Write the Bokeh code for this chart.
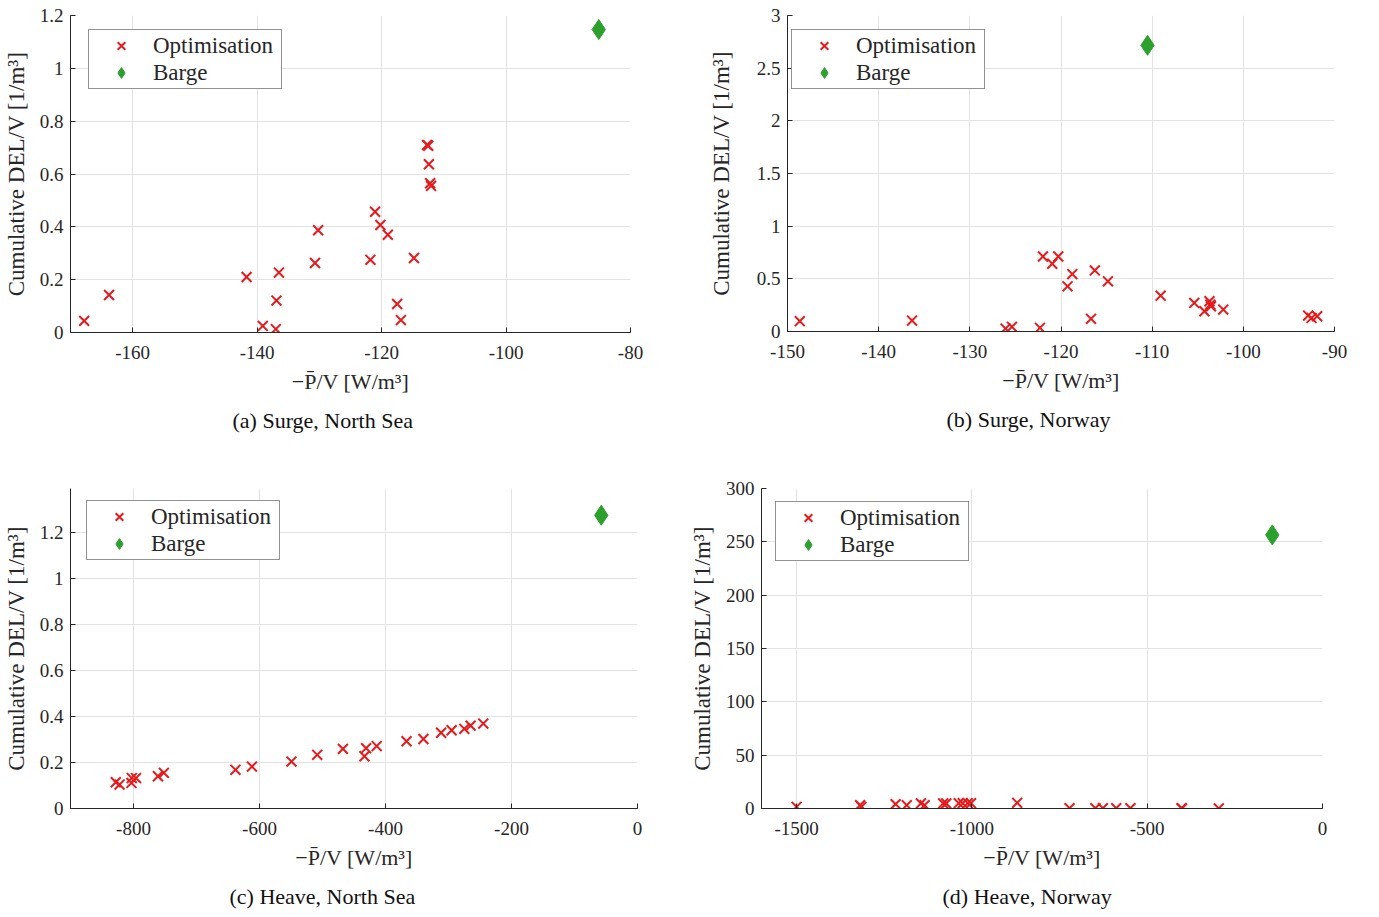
from bokeh.plotting import figure
from bokeh.models import Range1d, FixedTicker, CustomJSTickFormatter
from bokeh.layouts import column, row
from bokeh.embed import file_html
from bokeh.resources import INLINE

# ---------------- data ----------------
# (a) Surge, North Sea
a_opt_x = [-167.8, -163.8, -141.7, -139.1, -137.0, -136.9, -136.5, -130.7, -130.2, -121.8,
           -121.05, -120.2, -119.0, -117.5, -116.9, -114.8, -112.7, -112.5, -112.4, -112.2, -112.05]
a_opt_y = [0.044, 0.142, 0.210, 0.025, 0.013, 0.121, 0.227, 0.263, 0.387, 0.275,
           0.457, 0.407, 0.370, 0.108, 0.047, 0.282, 0.710, 0.707, 0.637, 0.565, 0.555]
a_barge_x = [-85.1]
a_barge_y = [1.147]
a_xticks = [-160, -140, -120, -100, -80]
a_yticks = [0, 0.2, 0.4, 0.6, 0.8, 1, 1.2]

# (b) Surge, Norway
b_opt_x = [-148.65, -136.34, -126.08, -125.38, -122.31, -121.98, -120.96, -120.30, -119.28, -118.76,
           -116.71, -116.29, -114.85, -109.07, -105.38, -104.27, -103.71, -103.62, -103.55, -102.2,
           -92.89, -92.52, -91.9]
b_opt_y = [0.098, 0.104, 0.028, 0.044, 0.035, 0.712, 0.643, 0.712, 0.429, 0.545,
           0.120, 0.580, 0.476, 0.340, 0.271, 0.192, 0.287, 0.256, 0.240, 0.208,
           0.151, 0.129, 0.145]
b_barge_x = [-110.51]
b_barge_y = [2.717]
b_xticks = [-150, -140, -130, -120, -110, -100, -90]
b_yticks = [0, 0.5, 1, 1.5, 2, 2.5, 3]

# (c) Heave, North Sea
c_opt_x = [-828.1, -822.1, -803.3, -802.7, -796.0, -761.2, -751.8, -638.1, -612.0, -549.2,
           -508.4, -467.6, -433.4, -430.8, -414.0, -366.6, -339.8, -311.7, -295.0, -274.9,
           -264.9, -244.8]
c_opt_y = [0.114, 0.104, 0.111, 0.132, 0.132, 0.140, 0.155, 0.168, 0.182, 0.204,
           0.233, 0.259, 0.227, 0.262, 0.271, 0.292, 0.302, 0.329, 0.340, 0.346,
           0.360, 0.369]
c_barge_x = [-57.5]
c_barge_y = [1.274]
c_xticks = [-800, -600, -400, -200, 0]
c_yticks = [0, 0.2, 0.4, 0.6, 0.8, 1, 1.2]

# (d) Heave, Norway
d_opt_x = [-1500, -1318.8, -1315, -1217.5, -1185.8, -1145.3, -1135, -1081.8, -1073, -1037.5,
           -1026, -1012, -1002.5, -870.8, -721.3, -647.8, -626.3, -588.3, -547.8, -402,
           -400.8, -295.7]
d_opt_y = [1.6, 3.1, 1.6, 4.1, 3.1, 4.7, 3.1, 4.7, 4.7, 5.0,
           5.0, 5.0, 5.0, 5.3, 0.3, 0.3, 0.3, 0.3, 0.3, 0.3,
           0.0, 0.1]
d_barge_x = [-143.2]
d_barge_y = [256.5]
d_xticks = [-1500, -1000, -500, 0]
d_yticks = [0, 50, 100, 150, 200, 250, 300]

captions = ["(a) Surge, North Sea", "(b) Surge, Norway", "(c) Heave, North Sea", "(d) Heave, Norway"]
x_label = "\u2212P\u0304/V [W/m\u00b3]"
y_label = "Cumulative DEL/V [1/m\u00b3]"
series_names = ["Optimisation", "Barge"]

RED = "#e41a1c"
GREEN = "#2ca02c"
AX = "#262626"
FONT = "Liberation Serif"
LEG_H = 58


def make(opt_x, opt_y, bx, by, xr, yr, xt, yt, caption, fw, fh,
         bl, br, bt, bb, cap_off, leg_x, leg_y, ylab_standoff):
    p = figure(frame_width=fw, frame_height=fh, output_backend="svg", toolbar_location=None,
               x_range=Range1d(*xr), y_range=Range1d(*yr), title=caption,
               title_location="below", min_border_left=bl, min_border_right=br,
               min_border_top=bt, min_border_bottom=bb)
    p.outline_line_color = None
    p.background_fill_color = "white"
    p.border_fill_color = "white"

    p.scatter(opt_x, opt_y, marker="x", size=14, line_width=2, color=RED,
              legend_label=series_names[0])
    p.scatter(bx, by, marker="diamond", size=20, color=GREEN, line_color=GREEN,
              legend_label=series_names[1])

    fmt = CustomJSTickFormatter(code="return tick.toString();")
    for ax, ticks in ((p.xaxis[0], xt), (p.yaxis[0], yt)):
        ax.ticker = FixedTicker(ticks=ticks)
        ax.formatter = fmt
        ax.axis_line_color = AX
        ax.major_tick_line_color = AX
        ax.major_tick_in = 5
        ax.major_tick_out = 0
        ax.minor_tick_line_color = None
        ax.major_label_text_font = FONT
        ax.major_label_text_font_size = "19px"
        ax.major_label_text_color = AX
        ax.axis_label_text_font = FONT
        ax.axis_label_text_font_style = "normal"
        ax.axis_label_text_color = AX
    p.xaxis.axis_label = x_label
    p.yaxis.axis_label = y_label
    p.xaxis.axis_label_text_font_size = "22px"
    p.yaxis.axis_label_text_font_size = "23px"
    p.xaxis.major_label_standoff = 13
    p.yaxis.major_label_standoff = 7
    p.xaxis.axis_label_standoff = 7
    p.yaxis.axis_label_standoff = ylab_standoff

    p.grid.grid_line_color = "#e3e3e3"
    p.grid.grid_line_width = 1
    p.xgrid.ticker = FixedTicker(ticks=xt)
    p.ygrid.ticker = FixedTicker(ticks=yt)

    p.title.align = "left"
    p.title.offset = cap_off
    p.title.text_font = FONT
    p.title.text_font_size = "22px"
    p.title.text_font_style = "normal"
    p.title.text_color = "#111111"
    p.title.standoff = 18

    lg = p.legend[0]
    lg.location = (leg_x, fh - leg_y - LEG_H)
    lg.border_line_color = AX
    lg.border_line_width = 1
    lg.background_fill_color = "white"
    lg.background_fill_alpha = 1
    lg.label_text_font = FONT
    lg.label_text_font_size = "23px"
    lg.label_text_color = AX
    lg.padding = 2
    lg.spacing = 0
    lg.glyph_width = 60
    lg.glyph_height = 27
    lg.label_height = 27
    lg.label_width = 126
    lg.label_standoff = 2
    lg.margin = 0
    return p


pa = make(a_opt_x, a_opt_y, a_barge_x, a_barge_y, (-170, -80), (0, 1.2), a_xticks, a_yticks,
          captions[0], 560, 317, 62, 70, 12, 119, 162, 18, 16, 8)
pb = make(b_opt_x, b_opt_y, b_barge_x, b_barge_y, (-150, -90), (0, 3), b_xticks, b_yticks,
          captions[1], 547, 316, 87, 20, 15, 117, 159, 4, 16, 20)
pc = make(c_opt_x, c_opt_y, c_barge_x, c_barge_y, (-900, 0), (0, 1.39), c_xticks, c_yticks,
          captions[2], 567, 320, 63, 49, 40, 100, 159, 16, 14, 8)
pd = make(d_opt_x, d_opt_y, d_barge_x, d_barge_y, (-1600, 0), (0, 300), d_xticks, d_yticks,
          captions[3], 561, 320, 75, 20, 39, 101, 181, 14, 15, 8)

layout = column(row(pa, pb), row(pc, pd))
open("out.html", "w").write(file_html(layout, INLINE))
